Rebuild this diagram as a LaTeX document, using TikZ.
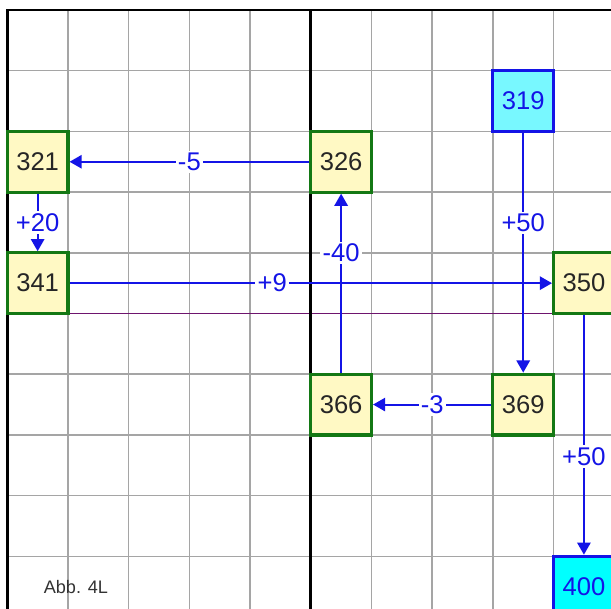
\documentclass[tikz,border=0pt]{standalone}
\usepackage{fontspec}
\setmainfont{Liberation Sans}
\usetikzlibrary{arrows.meta}
\definecolor{boxfill}{RGB}{255,249,196}
\definecolor{boxgreen}{RGB}{20,120,20}
\definecolor{flowblue}{RGB}{20,20,230}
\definecolor{startcyan}{RGB}{120,248,255}
\definecolor{endcyan}{RGB}{0,255,255}
\definecolor{gridgray}{RGB}{165,165,165}
\definecolor{rowpurple}{RGB}{110,20,110}
\tikzset{
    cell/.style={draw=boxgreen, fill=boxfill, line width=1.5pt, minimum size=1cm, inner sep=0pt, text=black!85, font=\fontsize{12}{14}\selectfont},
    startcell/.style={cell, draw=flowblue, fill=startcyan, text=flowblue},
    endcell/.style={cell, draw=flowblue, fill=endcyan, text=flowblue},
    flow/.style={draw=flowblue, line width=0.9pt, -{Triangle[length=2mm, width=2.2mm]}},
    change/.style={fill=white, inner sep=1pt, text=flowblue, font=\fontsize{12}{14}\selectfont},
}
\begin{document}
\begin{tikzpicture}
        \clip (-0.12,0.165) rectangle (9.946,-9.868);
        \fill[white] (-0.12,0.165) rectangle (9.946,-9.868);

        \draw[gridgray, line width=0.7pt] (0,0) grid (10,-10);
        \draw[rowpurple, line width=0.6pt] (0,-5) -- (10,-5);
        \draw[black, line width=1.2pt] (10,0) -- (0,0) -- (0,-10);
        \draw[black, line width=1.2pt] (5,0) -- (5,-10);

        \node[cell] (n321) at (0.5,-2.5) {321};
        \node[cell] (n341) at (0.5,-4.5) {341};
        \node[cell] (n326) at (5.5,-2.5) {326};
        \node[startcell] (n319) at (8.5,-1.5) {319};
        \node[cell] (n350) at (9.5,-4.5) {350};
        \node[cell] (n366) at (5.5,-6.5) {366};
        \node[cell] (n369) at (8.5,-6.5) {369};
        \node[endcell] (n400) at (9.5,-9.5) {400};

        \draw[flow] (n319) -- node[change, pos=0.375] {+50} (n369);
        \draw[flow] (n369) -- node[change] {-3} (n366);
        \draw[flow] (n366) -- node[change, pos=0.67] {-40} (n326);
        \draw[flow] (n326) -- node[change] {-5} (n321);
        \draw[flow] (n321) -- node[change] {+20} (n341);
        \draw[flow] (n341) -- node[change, pos=0.42] {+9} (n350);
        \draw[flow] (n350) -- node[change, pos=0.59] {+50} (n400);

        \node[text=black!80, font=\fontsize{8.5}{10}\selectfont] (caption) at (1.13,-9.5) {Abb. 4L};
\end{tikzpicture}
\end{document}
